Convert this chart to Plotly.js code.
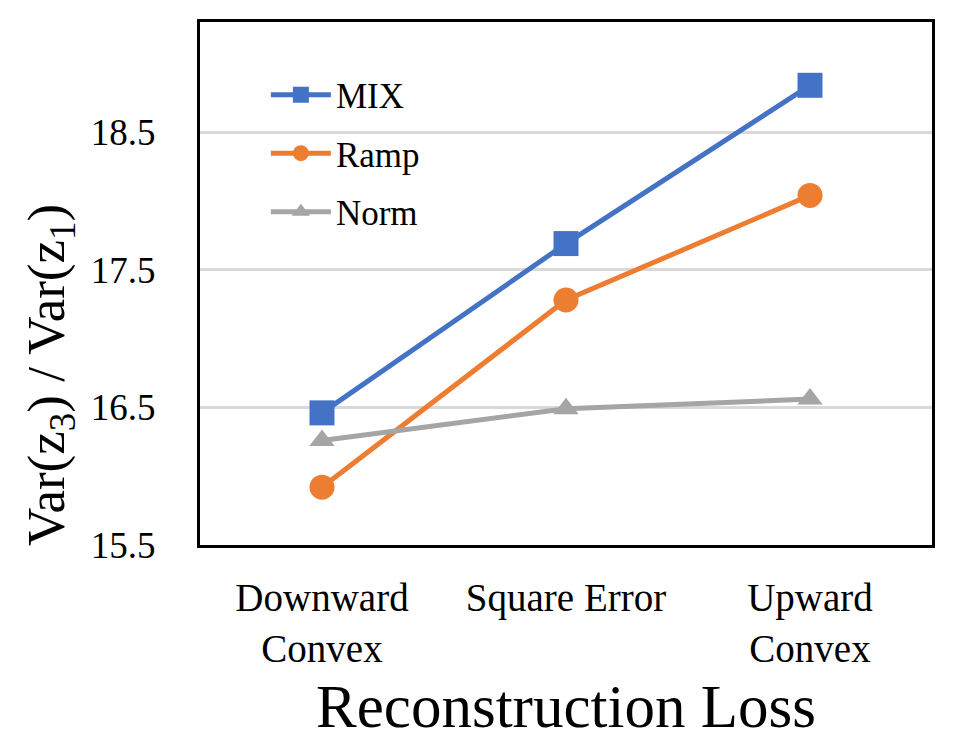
<!DOCTYPE html>
<html>
<head>
<meta charset="utf-8">
<script src="https://cdn.plot.ly/plotly-3.0.1.min.js"></script>
<style>html,body{margin:0;padding:0;background:#fff;}#chart{width:963px;height:747px;}</style>
</head>
<body>
<div id="chart"></div>
<script>
var categories = ["Downward<br>Convex", "Square Error", "Upward<br>Convex"];
var mixValues = [16.46, 17.69, 18.84];
var rampValues = [15.92, 17.28, 18.04];
var normValues = [16.26, 16.49, 16.56];
var yTickValues = [15.5, 16.5, 17.5, 18.5];
var yTickLabels = ["15.5", "16.5", "17.5", "18.5"];

var FONT = "Liberation Serif";

var traces = [
  {x: categories, y: mixValues, name: "MIX", type: "scatter", mode: "lines+markers",
   legendgroup: "a",
   line: {color: "#4472C4", width: 5}, marker: {symbol: "square", size: 25, color: "#4472C4"}},
  {x: categories, y: rampValues, name: "Ramp", type: "scatter", mode: "lines+markers",
   legendgroup: "b",
   line: {color: "#ED7D31", width: 5}, marker: {symbol: "circle", size: 25, color: "#ED7D31"}},
  {x: categories, y: normValues, name: "Norm", type: "scatter", mode: "lines+markers",
   legendgroup: "c",
   line: {color: "#A5A5A5", width: 5}, marker: {symbol: "triangle-up", size: 22, color: "#A5A5A5"}}
];

var layout = {
  width: 963, height: 747,
  margin: {l: 200, r: 31, t: 22, b: 202},
  paper_bgcolor: "#ffffff", plot_bgcolor: "#ffffff",
  font: {family: FONT, color: "#000000"},
  showlegend: true,
  legend: {x: 0.09, y: 0.917, xanchor: "left", yanchor: "top",
           font: {family: FONT, size: 35, color: "#000"},
           bgcolor: "rgba(0,0,0,0)", tracegroupgap: 10, itemwidth: 60, itemsizing: "trace"},
  xaxis: {
    type: "category", range: [-0.5, 2.5],
    tickfont: {family: FONT, size: 39, color: "#000"},
    showgrid: false, zeroline: false,
    showline: true, linecolor: "#000", linewidth: 3, mirror: true,
    ticks: "", ticklabelstandoff: 16,
    title: {text: "Reconstruction Loss", font: {family: FONT, size: 61, color: "#000"}, standoff: 16}
  },
  yaxis: {
    range: [15.5, 19.3],
    tickvals: yTickValues, ticktext: yTickLabels,
    tickfont: {family: FONT, size: 37, color: "#000"},
    showgrid: true, gridcolor: "#D9D9D9", gridwidth: 3,
    zeroline: false,
    showline: true, linecolor: "#000", linewidth: 3, mirror: true,
    ticks: "", ticklabelstandoff: 34
  },
  annotations: [{
    text: "Var(z<sub>3</sub>) / Var(z<sub>1</sub>)",
    xref: "paper", yref: "paper", x: -0.205, y: 0.325,
    xanchor: "center", yanchor: "middle", textangle: -90, showarrow: false,
    font: {family: FONT, size: 53, color: "#000"}
  }]
};

Plotly.newPlot("chart", traces, layout, {displayModeBar: false, staticPlot: true});
</script>
</body>
</html>
